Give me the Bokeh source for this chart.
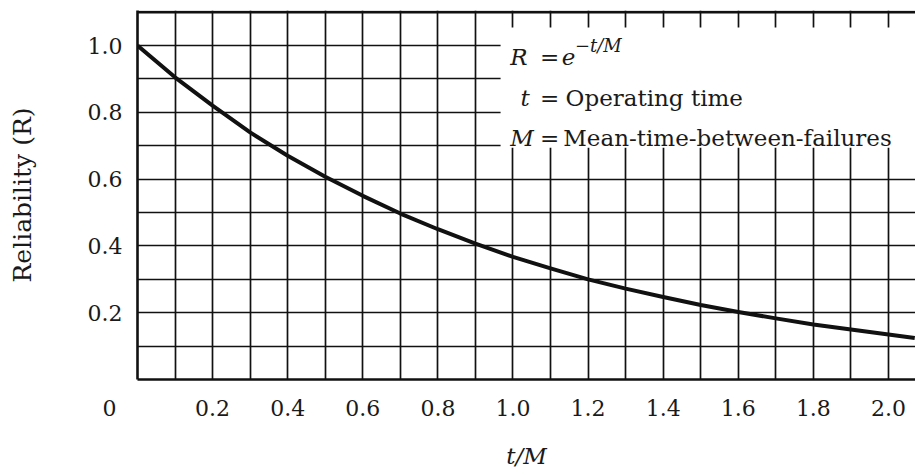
from bokeh.plotting import figure
from bokeh.models import Range1d, FixedTicker, Label, Span
from bokeh.embed import file_html
from bokeh.resources import INLINE

# ---- data ----
t_over_m = [0.0, 0.1, 0.2, 0.3, 0.4, 0.5, 0.6, 0.7, 0.8, 0.9, 1.0,
            1.1, 1.2, 1.3, 1.4, 1.5, 1.6, 1.7, 1.8, 1.9, 2.0, 2.07]
reliability = [1.00, 0.905, 0.82, 0.74, 0.67, 0.607, 0.55, 0.497, 0.45, 0.407, 0.367,
               0.333, 0.30, 0.272, 0.247, 0.223, 0.202, 0.183, 0.165, 0.15, 0.135, 0.124]

x_ticks = [0.0, 0.2, 0.4, 0.6, 0.8, 1.0, 1.2, 1.4, 1.6, 1.8, 2.0]
x_tick_labels = ["0", "0.2", "0.4", "0.6", "0.8", "1.0", "1.2", "1.4", "1.6", "1.8", "2.0"]
y_ticks = [0.2, 0.4, 0.6, 0.8, 1.0]
y_tick_labels = ["0.2", "0.4", "0.6", "0.8", "1.0"]
x_grid = [0.1, 0.2, 0.3, 0.4, 0.5, 0.6, 0.7, 0.8, 0.9, 1.0,
          1.1, 1.2, 1.3, 1.4, 1.5, 1.6, 1.7, 1.8, 1.9, 2.0]
y_grid = [0.1, 0.2, 0.3, 0.4, 0.5, 0.6, 0.7, 0.8, 0.9, 1.0]

INK = "#111111"
TXT = "#1a1a1a"
FONT = "DejaVu Serif"

p = figure(width=915, height=475, output_backend="svg", toolbar_location=None,
           x_range=Range1d(0, 2.072), y_range=Range1d(0, 1.105),
           min_border_left=137, min_border_right=0, min_border_top=10, min_border_bottom=96)
p.outline_line_color = None
p.background_fill_color = "white"
p.border_fill_color = "white"

# grid
p.xgrid.ticker = FixedTicker(ticks=x_grid)
p.ygrid.ticker = FixedTicker(ticks=y_grid)
for g in (p.xgrid, p.ygrid):
    g.grid_line_color = INK
    g.grid_line_width = 1.7
    g.grid_line_alpha = 1.0

# axes
# the origin label "0" sits left of the corner: pad it so its glyph shifts left
x_overrides = dict(zip(x_ticks, x_tick_labels))
x_overrides[x_ticks[0]] = x_tick_labels[0] + "\u00a0" * 8
p.xaxis.ticker = FixedTicker(ticks=x_ticks)
p.yaxis.ticker = FixedTicker(ticks=y_ticks)
p.xaxis.major_label_overrides = x_overrides
p.yaxis.major_label_overrides = dict(zip(y_ticks, y_tick_labels))
for ax in (p.xaxis, p.yaxis):
    ax.axis_line_color = INK
    ax.axis_line_width = 2.6
    ax.major_tick_line_color = None
    ax.major_tick_out = 0
    ax.major_tick_in = 0
    ax.minor_tick_line_color = None
    ax.major_label_text_font = FONT
    ax.major_label_text_font_size = "22px"
    ax.major_label_text_color = TXT
    ax.axis_label_text_font = FONT
    ax.axis_label_text_color = TXT

p.xaxis.axis_label = "t/M"
p.xaxis.axis_label_text_font_style = "italic"
p.xaxis.axis_label_text_font_size = "23px"
p.xaxis.major_label_standoff = 16
p.xaxis.axis_label_standoff = 19

p.yaxis.axis_label = "Reliability (R)"
p.yaxis.axis_label_text_font_style = "normal"
p.yaxis.axis_label_text_font_size = "25px"
p.yaxis.major_label_standoff = 15
p.yaxis.axis_label_standoff = 48

# top frame line
p.add_layout(Span(location=1.10, dimension="width", line_color=INK, line_width=2.6))

# white box behind the legend text
p.quad(left=0.967, right=2.3, bottom=0.694, top=1.054,
       fill_color="white", line_color=None)

# the curve
p.line(t_over_m, reliability, line_color=INK, line_width=4, line_join="round")

# legend / formula text
def lab(x, y, text, style="normal", size="23px"):
    p.add_layout(Label(x=x, y=y, text=text, text_align="left",
                       text_baseline="alphabetic", text_font=FONT,
                       text_font_size=size, text_font_style=style,
                       text_color=TXT))

lab(0.993, 0.967, "R", "italic")
lab(1.072, 0.967, "=")
lab(1.130, 0.967, "e", "italic")
lab(1.165, 1.000, "\u2212t/M", "italic", "18px")

lab(1.020, 0.842, "t", "italic")
lab(1.072, 0.842, "=")
lab(1.140, 0.842, "Operating time")

lab(0.993, 0.722, "M", "italic")
lab(1.072, 0.722, "=")
lab(1.134, 0.722, "Mean-time-between-failures")

open("out.html", "w").write(file_html(p, INLINE))
